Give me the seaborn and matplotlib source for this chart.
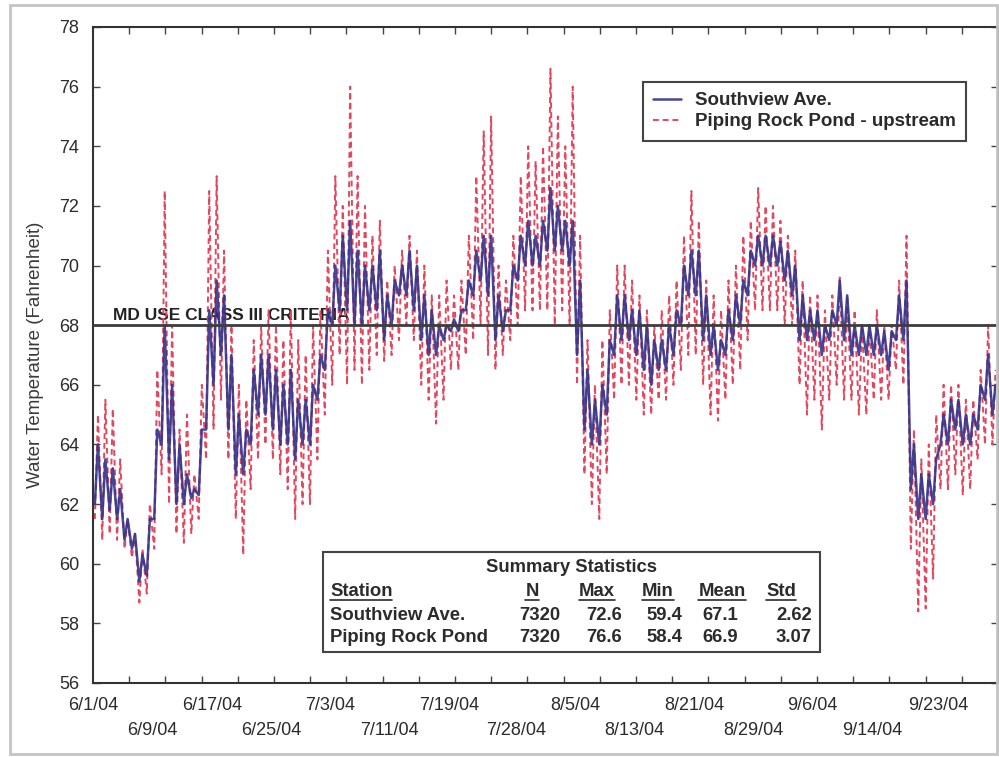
import numpy as np
import pandas as pd
import matplotlib
matplotlib.use("Agg")
import matplotlib.pyplot as plt
import matplotlib.dates as mdates
from matplotlib.ticker import FixedLocator
from matplotlib.lines import Line2D
from matplotlib.patches import Rectangle
import seaborn as sns

# ---- data: daily low / high water temperature (deg F), 6/1/04 - 9/30/04 ----
start_date = "2004-06-01"
n_days = 122

piping_lo = [61.5, 60.8, 61.0, 60.8, 60.5, 60.2, 58.7, 59.0, 60.5, 63.0,
             62.0, 61.0, 60.7, 61.0, 61.5, 63.5, 64.5, 65.5, 63.5, 61.5,
             60.3, 62.5, 63.5, 64.0, 63.5, 63.0, 62.5, 61.5, 62.0, 62.0,
             63.5, 65.0, 66.0, 67.0, 66.0, 66.5, 66.0, 66.5, 67.0, 66.8,
             67.0, 67.5, 68.0, 67.5, 66.0, 65.5, 64.7, 65.5, 66.5, 66.5,
             67.0, 67.5, 68.0, 67.0, 66.5, 67.0, 67.5, 68.0, 68.5, 68.5,
             68.5, 68.5, 68.0, 68.5, 68.0, 66.0, 63.0, 62.0, 61.5, 63.0,
             65.5, 66.0, 66.0, 65.5, 65.0, 65.0, 65.5, 65.5, 66.0, 66.5,
             67.0, 67.0, 66.0, 65.0, 64.8, 65.5, 66.0, 66.5, 67.5, 68.5,
             68.5, 68.5, 68.5, 68.0, 68.0, 66.0, 65.0, 65.5, 64.5, 65.5,
             66.0, 65.5, 65.5, 65.0, 65.0, 65.5, 65.5, 65.5, 66.5, 66.0,
             60.5, 58.4, 58.5, 59.5, 62.5, 62.5, 63.0, 62.3, 62.5, 63.5,
             64.0, 64.0]
piping_hi = [65.0, 65.5, 65.2, 63.5, 61.5, 61.0, 60.5, 62.0, 66.5, 72.5,
             68.0, 64.5, 65.0, 63.0, 66.0, 72.5, 73.0, 70.5, 68.0, 66.0,
             65.5, 67.5, 68.0, 68.5, 68.0, 67.5, 68.5, 67.5, 67.0, 68.0,
             68.5, 70.5, 73.0, 72.0, 76.0, 73.0, 72.0, 71.0, 71.5, 69.5,
             70.0, 70.5, 71.0, 70.5, 70.0, 69.0, 69.0, 69.5, 69.0, 69.5,
             71.0, 73.0, 74.5, 75.0, 70.0, 69.5, 71.0, 73.0, 74.0, 73.5,
             74.0, 76.6, 75.0, 74.0, 76.0, 71.0, 67.5, 66.0, 67.5, 68.5,
             70.0, 70.0, 69.5, 69.0, 68.5, 68.0, 68.5, 69.0, 69.5, 71.0,
             72.5, 71.5, 69.5, 69.0, 68.5, 69.5, 70.0, 71.0, 71.5, 72.6,
             72.0, 72.0, 71.5, 71.0, 70.5, 69.5, 69.0, 69.0, 68.5, 69.0,
             69.6, 69.0, 68.5, 68.0, 68.0, 68.5, 68.0, 68.0, 69.5, 71.0,
             64.5, 63.5, 64.0, 65.0, 66.0, 66.0, 66.0, 65.5, 65.5, 66.5,
             68.0, 66.5]
south_lo = [62.0, 61.5, 61.8, 61.5, 60.8, 60.5, 59.4, 59.6, 61.5, 64.0,
            63.5, 62.0, 62.0, 62.2, 62.3, 64.5, 66.0, 67.0, 64.5, 63.0,
            63.0, 64.0, 65.0, 65.0, 64.5, 64.0, 64.0, 63.5, 64.0, 64.0,
            65.5, 66.5, 68.0, 68.5, 68.5, 68.0, 68.0, 68.5, 68.5, 67.5,
            68.0, 69.0, 69.0, 68.5, 67.5, 67.0, 67.0, 67.5, 67.8, 67.8,
            68.5, 69.0, 69.5, 69.0, 67.5, 67.8, 68.5, 69.5, 70.0, 70.0,
            70.0, 70.5, 70.5, 70.5, 70.0, 67.0, 64.5, 64.0, 64.0, 65.0,
            67.0, 67.5, 67.5, 67.0, 66.5, 66.0, 66.5, 66.5, 67.0, 68.0,
            69.0, 69.0, 67.5, 67.0, 66.5, 67.0, 67.5, 68.0, 69.0, 70.0,
            70.0, 70.0, 70.0, 69.5, 69.0, 67.5, 67.5, 67.5, 67.0, 67.5,
            68.0, 67.5, 67.0, 67.0, 67.0, 67.0, 67.0, 66.5, 67.5, 67.5,
            62.5, 61.5, 61.5, 62.0, 64.0, 64.0, 64.5, 64.0, 64.0, 64.5,
            65.5, 65.0]
south_hi = [64.0, 63.5, 63.2, 62.5, 61.5, 61.0, 60.3, 61.5, 64.5, 68.0,
            66.0, 64.0, 63.0, 62.5, 64.5, 68.5, 69.5, 69.0, 67.0, 65.0,
            64.5, 66.5, 67.0, 67.0, 66.5, 66.0, 66.5, 65.5, 65.5, 66.0,
            67.0, 68.5, 70.0, 71.0, 71.5, 70.5, 70.0, 70.0, 70.5, 69.0,
            69.5, 70.0, 70.5, 70.0, 69.0, 68.5, 68.0, 68.0, 68.2, 68.5,
            69.5, 70.5, 71.0, 71.0, 69.0, 68.5, 70.0, 71.0, 71.5, 71.0,
            71.5, 72.6, 72.0, 71.5, 71.5, 69.5, 66.5, 65.5, 66.0, 67.5,
            69.0, 69.0, 68.5, 68.5, 68.0, 67.5, 67.5, 68.0, 68.5, 70.0,
            70.5, 70.5, 69.0, 68.0, 67.5, 68.5, 69.0, 69.5, 70.5, 71.0,
            71.0, 71.0, 70.8, 70.5, 70.0, 69.0, 68.5, 68.5, 68.0, 68.5,
            69.5, 69.0, 68.0, 68.0, 68.0, 68.0, 67.8, 67.8, 69.0, 69.5,
            64.0, 63.0, 63.0, 63.5, 65.0, 65.5, 65.5, 65.0, 65.0, 66.0,
            67.0, 66.0]

station_names = ["Southview Ave.", "Piping Rock Pond - upstream"]
criterion_value = 68
criterion_label = "MD USE CLASS III CRITERIA"

tick_dates = ["2004-06-01", "2004-06-09", "2004-06-17", "2004-06-25", "2004-07-03",
              "2004-07-11", "2004-07-19", "2004-07-28", "2004-08-05", "2004-08-13",
              "2004-08-21", "2004-08-29", "2004-09-06", "2004-09-14", "2004-09-23"]
tick_labels = ["6/1/04", "6/9/04", "6/17/04", "6/25/04", "7/3/04", "7/11/04",
               "7/19/04", "7/28/04", "8/5/04", "8/13/04", "8/21/04", "8/29/04",
               "9/6/04", "9/14/04", "9/23/04"]
y_ticks = list(range(56, 79, 2))

stats_title = "Summary Statistics"
stats_header = ["Station", "N", "Max", "Min", "Mean", "Std"]
stats_rows = [["Southview Ave.", "7320", "72.6", "59.4", "67.1", "2.62"],
              ["Piping Rock Pond", "7320", "76.6", "58.4", "66.9", "3.07"]]

# ---- build long-form frames: early-morning low, late-afternoon high each day ----
days = pd.date_range(start_date, periods=n_days, freq="D")


def daily_cycle(lo, hi, name):
    t = []
    v = []
    for d, a, b in zip(days, lo, hi):
        t += [d + pd.Timedelta(hours=6), d + pd.Timedelta(hours=16)]
        v += [a, b]
    return pd.DataFrame({"time": t, "temp": v, "station": name})


df_south = daily_cycle(south_lo, south_hi, station_names[0])
df_pipe = daily_cycle(piping_lo, piping_hi, station_names[1])

# ---- styling ----
sns.set_style("white")
plt.rcParams["font.family"] = ["Liberation Sans", "DejaVu Sans"]
RED = "#e2475f"
NAVY = "#34338a"
TXT = "#2b2b2b"

W, H = 999, 757
fig = plt.figure(figsize=(W / 100, H / 100), dpi=100)


def fx(x):
    return x / W


def fy(y):
    return 1 - y / H


ax = fig.add_axes([fx(93), fy(683), fx(998) - fx(93), fy(27) - fy(683)])

sns.lineplot(data=df_pipe, x="time", y="temp", ax=ax, color=RED, lw=1.4,
             estimator=None, sort=False, errorbar=None, label=station_names[1], zorder=2)
ax.lines[-1].set_dashes([3, 2])
sns.lineplot(data=df_south, x="time", y="temp", ax=ax, color=NAVY, lw=1.8, alpha=0.9,
             estimator=None, sort=False, errorbar=None, label=station_names[0], zorder=3)

# criterion line and label
ax.axhline(criterion_value, color="#3d3d3d", lw=2, zorder=4)
ax.text((113 - 93) / 905, criterion_value + 0.08, criterion_label,
        transform=ax.get_yaxis_transform(), fontsize=12.5, fontweight="bold",
        color="#222222", va="bottom", ha="left", zorder=1)

# axes limits and ticks
x0 = pd.Timestamp(start_date)
ax.set_xlim(x0, x0 + pd.Timedelta(days=n_days))
ax.set_ylim(56, 78)
ax.set_yticks(y_ticks)
ax.set_yticklabels([str(v) for v in y_ticks])

ax.set_xticks([pd.Timestamp(d) for d in tick_dates])
labels = [lab if i % 2 == 0 else "\n" + lab for i, lab in enumerate(tick_labels)]
xt = ax.set_xticklabels(labels)
for t in xt:
    t.set_linespacing(1.65)
n0 = mdates.date2num(x0)
ax.xaxis.set_minor_locator(FixedLocator([n0 + k * n_days / 25 for k in range(1, 25)]))

ax.tick_params(axis="x", which="major", length=0, pad=10, labelsize=13, labelcolor=TXT)
ax.tick_params(axis="x", which="minor", direction="in", length=5, width=1,
               top=True, bottom=True, color="#444444")
ax.tick_params(axis="y", which="major", direction="in", length=5, width=1,
               left=True, right=True, pad=10, labelsize=13, labelcolor=TXT, color="#444444")

ax.set_xlabel("")
ax.set_ylabel("Water Temperature (Fahrenheit)", fontsize=13.5, color="#3a3a3a")
ax.yaxis.set_label_coords((44 - 93) / 905, 0.5)

for s in ax.spines.values():
    s.set_color("#333333")
    s.set_linewidth(1.5)

# legend
handles, labs = ax.get_legend_handles_labels()
order = [labs.index(station_names[0]), labs.index(station_names[1])]
leg = ax.legend([handles[i] for i in order], [labs[i] for i in order],
                loc="upper left", bbox_to_anchor=(fx(643), fy(82)),
                bbox_transform=fig.transFigure, borderaxespad=0, frameon=True,
                fancybox=False, edgecolor="#444444", framealpha=1,
                prop={"weight": "bold", "size": 13.5}, handlelength=1.5,
                handletextpad=0.7, borderpad=0.55, labelspacing=0.2)
leg.get_frame().set_linewidth(1.5)
for t in leg.get_texts():
    t.set_color(TXT)

# summary statistics box
box = Rectangle((fx(323), fy(652)), fx(820) - fx(323), fy(552) - fy(652),
                transform=fig.transFigure, facecolor="white", edgecolor="#444444",
                lw=1.5, zorder=10)
fig.patches.append(box)

fs_tab = 13.3
fig.text(fx(572), fy(567), stats_title, ha="center", va="center",
         fontsize=fs_tab, fontweight="bold", color=TXT, zorder=11)

header_x = [(330, "left"), (532, "center"), (597, "center"), (658, "center"),
            (722, "center"), (781, "center")]
value_x = [(330, "left"), (560, "right"), (622, "right"), (682, "right"),
           (738, "right"), (812, "right")]
header_texts = []
for (x, ha), h in zip(header_x, stats_header):
    header_texts.append(fig.text(fx(x), fy(592), h, ha=ha, va="center",
                                 fontsize=fs_tab, fontweight="bold", color=TXT, zorder=11))
for row, yrow in zip(stats_rows, [615, 637]):
    for (x, ha), v in zip(value_x, row):
        fig.text(fx(x), fy(yrow), v, ha=ha, va="center",
                 fontsize=fs_tab, fontweight="bold", color=TXT, zorder=11)

# underline the column headings
fig.canvas.draw()
inv = fig.transFigure.inverted()
for t in header_texts:
    bb = t.get_window_extent()
    (ux0, uy), (ux1, _) = inv.transform([(bb.x0, bb.y0 + 0.5), (bb.x1, bb.y0)])
    fig.lines.append(Line2D([ux0, ux1], [uy, uy], transform=fig.transFigure,
                            color=TXT, lw=1.2, zorder=11))

# outer figure border
fig.patches.append(Rectangle((fx(10), fy(754)), fx(997) - fx(10), fy(5) - fy(754),
                             transform=fig.transFigure, fill=False,
                             edgecolor="#c4c4c4", lw=2))

fig.savefig("out.png", dpi=100)
